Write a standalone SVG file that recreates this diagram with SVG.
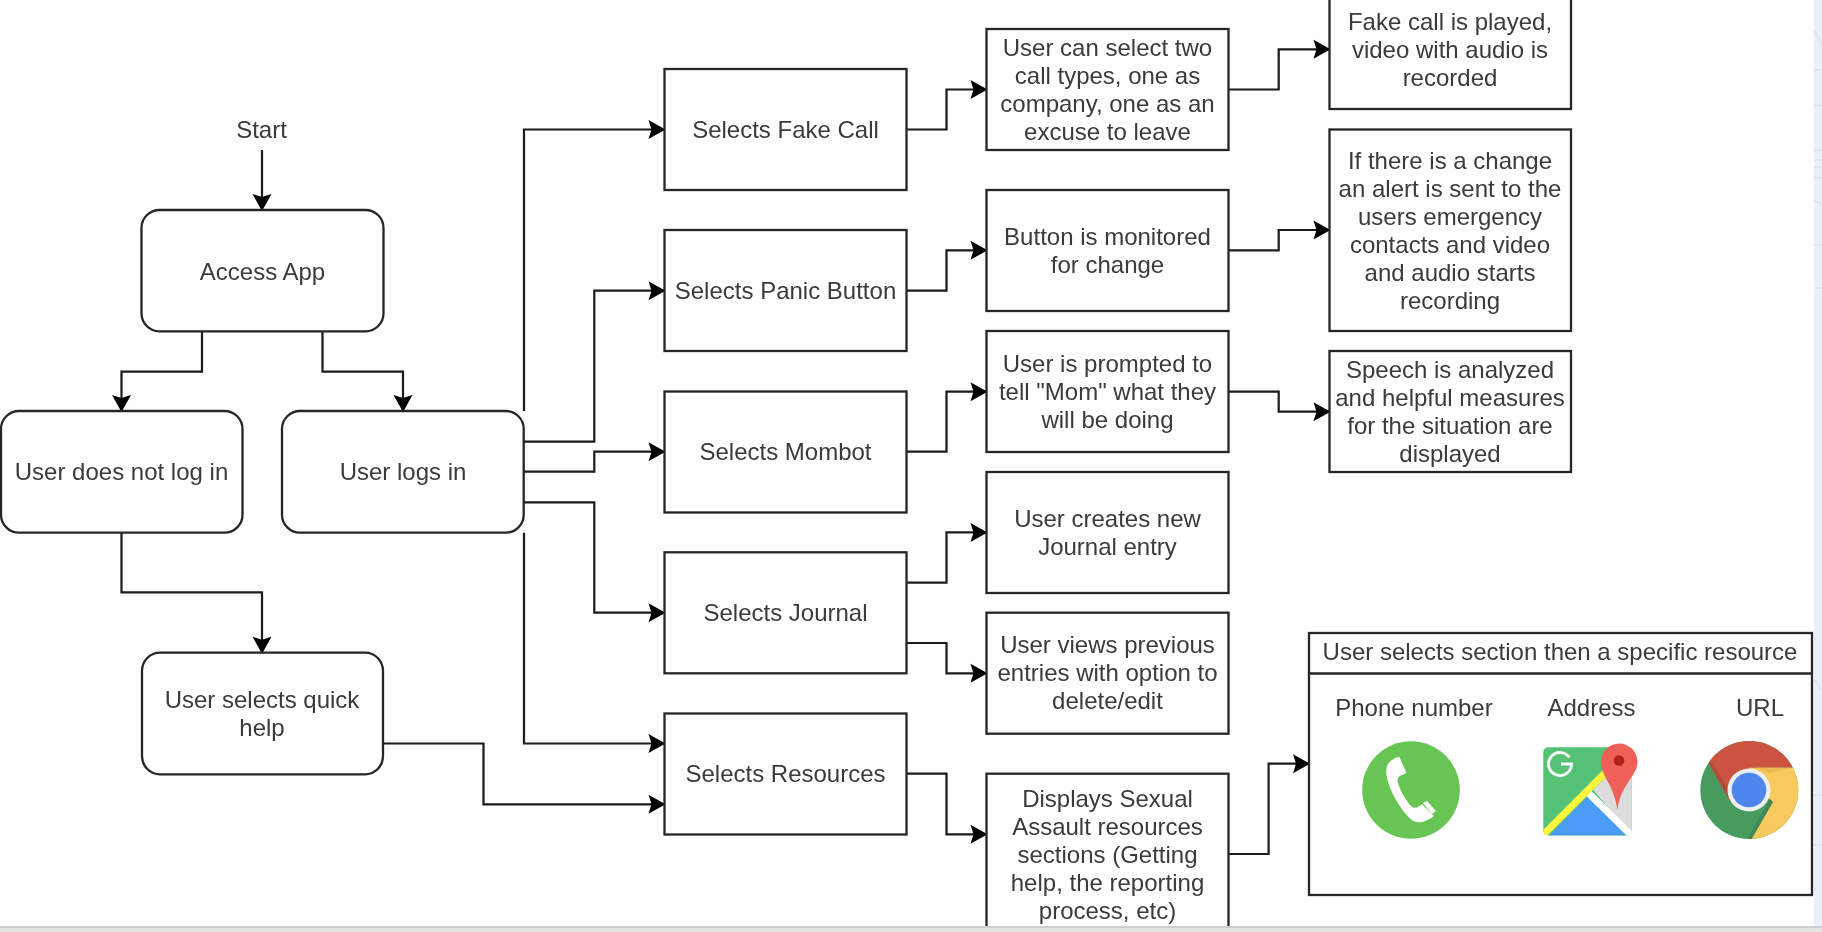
<svg xmlns="http://www.w3.org/2000/svg" width="1822" height="932" viewBox="0 0 1822 932">
<style>
.b{fill:#fff;stroke:#262626;stroke-width:2.3}
.h{fill:none;stroke:#262626;stroke-width:2.3}
.c{fill:none;stroke:#1a1a1a;stroke-width:2.2;marker-end:url(#a)}
text{font-family:"Liberation Sans",Arial,sans-serif;font-size:24px;fill:#3a3a3a;text-anchor:middle}
</style>
<defs>
<marker id="a" markerUnits="userSpaceOnUse" markerWidth="22" markerHeight="22" refX="17" refY="11" orient="auto"><path d="M1,1.500 L18,11 L1,20.500 L4,11 Z" fill="#000"/></marker>
<filter id="s" x="-2%" y="-2%" width="104%" height="104%"><feGaussianBlur stdDeviation="0.55"/></filter>
<clipPath id="cc"><circle cx="1749.3" cy="790" r="49"/></clipPath>
<clipPath id="mc"><rect x="1543.3" y="747.3" width="88.5" height="88.3" rx="5"/></clipPath>
</defs>
<rect width="1822" height="932" fill="#fefefe"/>
<g id="strip">
<rect x="1814" y="0" width="8" height="926" fill="#e9f0fb"/>
<path d="M1814,30 L1822,45 M1814,70 L1820,70 M1814,105.500 H1822 M1814,150 H1822 M1814,160 H1822 M1814,167 H1822 M1814,178 H1822 M1814,200 L1822,205 M1814,245 H1822 M1814,288 H1822 M1814,680 L1822,690 M1814,795 H1822 M1814,845 H1822" fill="none" stroke="#dfe5f0" stroke-width="2"/>
</g>
<g filter="url(#s)">
<g id="connectors">
<path class="c" d="M262,150V210"/>
<path class="c" d="M202,331.300V371.700H121.500V411"/>
<path class="c" d="M322.500,331.300V371.700H403V411"/>
<path class="c" d="M121.500,532.700V592.300H262V652.700"/>
<path class="c" d="M524,411V129.500H664.500"/>
<path class="c" d="M524,441.700H594.300V290.700H664.500"/>
<path class="c" d="M524,471.700H594.300V451.700H664.500"/>
<path class="c" d="M524,502.300H594.300V612.700H664.500"/>
<path class="c" d="M524,532.700V743.500H664.500"/>
<path class="c" d="M383,743.500H483.500V804.300H664.500"/>
<path class="c" d="M906.500,129.500H946.500V89.500H986.500"/>
<path class="c" d="M906.500,290.700H946.500V250.300H986.500"/>
<path class="c" d="M906.500,451.700H946.500V391.700H986.500"/>
<path class="c" d="M906.500,582.700H946.500V532.400H986.500"/>
<path class="c" d="M906.500,643H946.500V673.300H986.500"/>
<path class="c" d="M906.500,773.700H946.500V834.300H986.500"/>
<path class="c" d="M1228.500,89.500H1278.700V49.300H1329.500"/>
<path class="c" d="M1228.500,250.300H1278.700V230H1329.500"/>
<path class="c" d="M1228.500,391.700H1278.700V411.700H1329.500"/>
<path class="c" d="M1228.500,854H1268.600V763.700H1309"/>
</g>
<g id="start"><text x="261.500" y="138">Start</text></g>
<g id="access"><rect class="b" x="141.500" y="210" width="242" height="121.300" rx="18"/><text x="262.500" y="279.500">Access App</text></g>
<g id="nologin"><rect class="b" x="1" y="411" width="241.500" height="121.700" rx="18"/><text x="121.500" y="480">User does not log in</text></g>
<g id="login"><rect class="b" x="282" y="411" width="241.700" height="121.700" rx="18"/><text x="403" y="480">User logs in</text></g>
<g id="quick"><rect class="b" x="142" y="652.700" width="241" height="121.600" rx="18"/><text x="262" y="708">User selects quick</text><text x="262" y="736">help</text></g>
<g id="fake"><rect class="b" x="664.500" y="69" width="242" height="121"/><text x="785.500" y="138">Selects Fake Call</text></g>
<g id="panic"><rect class="b" x="664.500" y="230" width="242" height="121"/><text x="785.500" y="299">Selects Panic Button</text></g>
<g id="mombot"><rect class="b" x="664.500" y="391.500" width="242" height="121"/><text x="785.500" y="460">Selects Mombot</text></g>
<g id="journal"><rect class="b" x="664.500" y="552.300" width="242" height="121"/><text x="785.500" y="621">Selects Journal</text></g>
<g id="resources"><rect class="b" x="664.500" y="713.500" width="242" height="121"/><text x="785.500" y="782">Selects Resources</text></g>
<g id="calltypes"><rect class="b" x="986.500" y="29" width="242" height="121"/><text x="1107.500" y="55.500">User can select two</text><text x="1107.500" y="83.500">call types, one as</text><text x="1107.500" y="111.500">company, one as an</text><text x="1107.500" y="139.500">excuse to leave</text></g>
<g id="monitor"><rect class="b" x="986.500" y="190" width="242" height="121"/><text x="1107.500" y="245">Button is monitored</text><text x="1107.500" y="273">for change</text></g>
<g id="prompt"><rect class="b" x="986.500" y="331" width="242" height="121"/><text x="1107.500" y="372">User is prompted to</text><text x="1107.500" y="400">tell "Mom" what they</text><text x="1107.500" y="428">will be doing</text></g>
<g id="newentry"><rect class="b" x="986.500" y="472" width="242" height="121"/><text x="1107.500" y="527">User creates new</text><text x="1107.500" y="555">Journal entry</text></g>
<g id="viewentries"><rect class="b" x="986.500" y="612.700" width="242" height="121"/><text x="1107.500" y="653">User views previous</text><text x="1107.500" y="681">entries with option to</text><text x="1107.500" y="709">delete/edit</text></g>
<g id="displays"><rect class="b" x="986.500" y="773.700" width="242" height="190"/><text x="1107.500" y="807">Displays Sexual</text><text x="1107.500" y="835">Assault resources</text><text x="1107.500" y="863">sections (Getting</text><text x="1107.500" y="891">help, the reporting</text><text x="1107.500" y="919">process, etc)</text></g>
<g id="played"><rect class="b" x="1329.500" y="-12" width="241.500" height="121"/><text x="1450" y="30">Fake call is played,</text><text x="1450" y="58">video with audio is</text><text x="1450" y="86">recorded</text></g>
<g id="alert"><rect class="b" x="1329.500" y="129.500" width="241.500" height="201.500"/><text x="1450" y="169">If there is a change</text><text x="1450" y="197">an alert is sent to the</text><text x="1450" y="225">users emergency</text><text x="1450" y="253">contacts and video</text><text x="1450" y="281">and audio starts</text><text x="1450" y="309">recording</text></g>
<g id="speech"><rect class="b" x="1329.500" y="351" width="241.500" height="121"/><text x="1450" y="378">Speech is analyzed</text><text x="1450" y="406">and helpful measures</text><text x="1450" y="434">for the situation are</text><text x="1450" y="462">displayed</text></g>
<g id="resourcegroup">
<rect class="b" x="1309" y="633" width="503" height="262"/>
<path class="h" d="M1309,673.500H1812"/>
<text x="1560" y="660">User selects section then a specific resource</text>
<text x="1414" y="716">Phone number</text>
<text x="1591.500" y="716">Address</text>
<text x="1760" y="716">URL</text>
<g id="phoneicon">
<circle cx="1411" cy="790" r="48.800" fill="#66c552"/>
<path d="M1395,758.500 C1387,761 1385,769 1387,778 C1391,795 1404,815 1414,821.500 C1421,824 1429,820 1434,816 L1422,804 C1418,808 1414,809 1411,806 C1405,799 1399,789 1397.500,780 C1398,776 1402,775 1405,773.500 Z" fill="#fff"/>
<path d="M1394.500,758 L1399.500,757 L1406.500,773 L1402,775 Z M1423,803 L1427,801 L1436,811 L1432,814 Z" fill="#fff"/>
</g>
<g id="mapsicon" clip-path="url(#mc)">
<rect x="1543" y="747" width="90" height="90" fill="#57c274"/>
<path d="M1593.300,790 L1606,777 L1632,777 L1632,836 Z" fill="#dcdcdc"/>
<path d="M1549.300,835.600 L1588.300,795.700 L1626.700,835.600 Z" fill="#4c9cf8"/>
<path d="M1588.300,793 L1632,836" fill="none" stroke="#fff" stroke-width="7"/>
<path d="M1542,836 L1608,770" fill="none" stroke="#fdf540" stroke-width="7"/>
<path d="M1569.400,757.400 A11.500,11.500 0 1 0 1571.500,764 H1561" fill="none" stroke="#fff" stroke-width="2.800"/>
</g>
<g id="mappin">
<path d="M1601,762 C1601,776 1614,785 1617.500,810 C1620,785 1637.500,776 1637.500,761.700 A18.200,18.200 0 0 0 1601,762 Z" fill="#ef6158"/>
<circle cx="1619" cy="760.500" r="5.300" fill="#b22314"/>
</g>
<g id="chromeicon">
<g clip-path="url(#cc)">
<rect x="1695" y="735" width="110" height="110" fill="#469b5f"/>
<path d="M1709,763.300 L1729,800 L1749,767.700 L1800,767.700 L1800,735 L1690,735 Z" fill="#cc5240"/>
<path d="M1749,767.700 L1805,767.700 L1805,845 L1746,845 L1770,800 Z" fill="#f8c95c"/>
<path d="M1709,763.300 L1731,802 L1734,800 L1713,763 Z" fill="#b54a39"/>
<path d="M1770,799 L1746,842 L1750,842 L1773,802 Z" fill="#3f8855"/>
<path d="M1755,767.700 L1792,767.700 L1770,773 Z" fill="#ecb952"/>
</g>
<circle cx="1749" cy="790" r="21.500" fill="#eef0f2"/>
<circle cx="1749" cy="790" r="17.300" fill="#5086ee"/>
</g>
</g>
</g>
<g id="bottombar"><rect x="0" y="926" width="1822" height="2" fill="#cfcfcf"/><rect x="0" y="928" width="1822" height="4" fill="#e5e5e5"/></g>
</svg>
